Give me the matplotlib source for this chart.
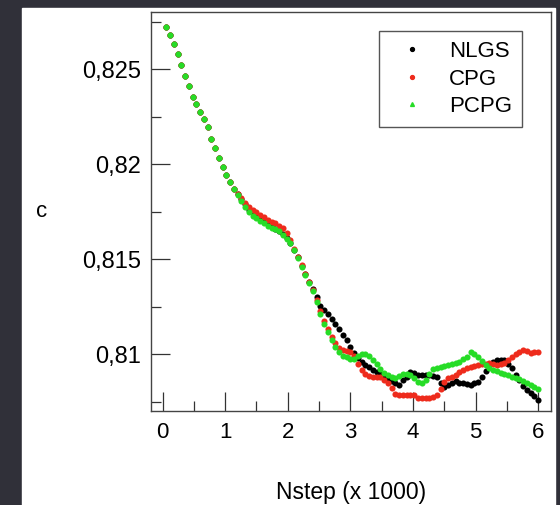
import numpy as np
import matplotlib
matplotlib.use("Agg")
import matplotlib.pyplot as plt
from matplotlib.lines import Line2D
from matplotlib.patches import Rectangle
from matplotlib.ticker import MultipleLocator

plt.rcParams['font.family'] = ['Liberation Sans', 'DejaVu Sans']

# values, one point every 60 steps (x in thousands)
common = [0.82719, 0.82679, 0.82630, 0.82577, 0.82521, 0.82463, 0.82410, 0.82354,
          0.82315, 0.82275, 0.82238, 0.82195, 0.82130, 0.82085, 0.82030, 0.81985,
          0.81942, 0.81905, 0.81868]

nlgs = common + [
    0.81840, 0.81815, 0.81788, 0.81760, 0.81745, 0.81730, 0.81717, 0.81703, 0.81690, 0.81675,
    0.81660, 0.81645, 0.81630, 0.81610, 0.81585, 0.81550, 0.81510, 0.81465, 0.81420, 0.81380,
    0.81340, 0.81298, 0.81255, 0.81232, 0.81208, 0.81184, 0.81157, 0.81130, 0.81102, 0.81074,
    0.81035, 0.81005, 0.80978, 0.80960, 0.80943, 0.80930, 0.80918, 0.80907, 0.80897, 0.80885,
    0.80870, 0.80858, 0.80845, 0.80838, 0.80862, 0.80880, 0.80905, 0.80902, 0.80892, 0.80888,
    0.80889, 0.80889, 0.80886, 0.80880, 0.80850, 0.80828, 0.80837, 0.80850, 0.80856, 0.80850,
    0.80845, 0.80840, 0.80837, 0.80845, 0.80855, 0.80880, 0.80910, 0.80948, 0.80958, 0.80966,
    0.80968, 0.80966, 0.80950, 0.80925, 0.80892, 0.80862, 0.80830, 0.80810, 0.80795, 0.80777,
    0.80757]

cpg = common + [
    0.81840, 0.81820, 0.81795, 0.81772, 0.81758, 0.81745, 0.81732, 0.81720, 0.81708, 0.81697,
    0.81688, 0.81676, 0.81665, 0.81635, 0.81598, 0.81555, 0.81512, 0.81468, 0.81422, 0.81380,
    0.81338, 0.81285, 0.81225, 0.81175, 0.81130, 0.81090, 0.81060, 0.81030, 0.81020, 0.81014,
    0.81008, 0.80992, 0.80945, 0.80915, 0.80895, 0.80885, 0.80880, 0.80880, 0.80878, 0.80862,
    0.80845, 0.80820, 0.80790, 0.80785, 0.80784, 0.80785, 0.80784, 0.80782, 0.80770, 0.80767,
    0.80766, 0.80767, 0.80775, 0.80785, 0.80818, 0.80855, 0.80872, 0.80880, 0.80890, 0.80903,
    0.80915, 0.80925, 0.80932, 0.80936, 0.80940, 0.80945, 0.80948, 0.80951, 0.80947, 0.80942,
    0.80946, 0.80955, 0.80970, 0.80985, 0.81000, 0.81012, 0.81020, 0.81018, 0.81005, 0.81008,
    0.81012]

pcpg = common + [
    0.81835, 0.81805, 0.81775, 0.81745, 0.81728, 0.81715, 0.81702, 0.81688, 0.81675, 0.81665,
    0.81657, 0.81645, 0.81625, 0.81605, 0.81582, 0.81545, 0.81505, 0.81460, 0.81415, 0.81375,
    0.81330, 0.81275, 0.81212, 0.81160, 0.81115, 0.81075, 0.81035, 0.81008, 0.80992, 0.80985,
    0.80975, 0.80975, 0.80988, 0.80998, 0.81002, 0.80988, 0.80968, 0.80945, 0.80922, 0.80902,
    0.80888, 0.80878, 0.80872, 0.80882, 0.80895, 0.80896, 0.80890, 0.80875, 0.80852, 0.80848,
    0.80862, 0.80895, 0.80922, 0.80928, 0.80932, 0.80936, 0.80942, 0.80946, 0.80952, 0.80960,
    0.80972, 0.80986, 0.81008, 0.81000, 0.80982, 0.80962, 0.80940, 0.80925, 0.80916, 0.80908,
    0.80900, 0.80894, 0.80890, 0.80880, 0.80873, 0.80866, 0.80858, 0.80848, 0.80838, 0.80826,
    0.80815]

names = ['NLGS', 'CPG', 'PCPG']
colors = ['#000000', '#ee2b1c', '#26dc26']
xticks = [0, 1, 2, 3, 4, 5, 6]
yticks = [0.81, 0.815, 0.82, 0.825]
ytick_labels = ['0,81', '0,815', '0,82', '0,825']

fig = plt.figure(figsize=(5.6, 5.05), dpi=100, facecolor='#303039')
# white slide panel behind the chart
fig.patches.append(Rectangle((22 / 560, 0), 533 / 560, 497 / 505,
                             transform=fig.transFigure, color='white', zorder=-10))

ax = fig.add_axes([150.7 / 560, 94 / 505, 400 / 560, 399.3 / 505])
ax.set_zorder(5)

for vals, c in zip([nlgs, cpg, pcpg], colors):
    x = 0.06 * np.arange(1, len(vals) + 1)
    ax.plot(x, vals, linestyle='none', marker='o', markersize=4.4,
            markeredgewidth=0, color=c)

ax.set_xlim(-0.19, 6.2)
ax.set_ylim(0.807, 0.82802)
ax.set_xticks(xticks)
ax.set_yticks(yticks)
ax.set_yticklabels(ytick_labels)
ax.xaxis.set_minor_locator(MultipleLocator(0.5))
ax.yaxis.set_minor_locator(MultipleLocator(0.0025))
ax.tick_params(which='both', direction='in', top=False, right=False,
               color='#333333', width=0.9)
ax.tick_params(which='major', length=14)
ax.tick_params(which='minor', length=7)
ax.tick_params(axis='x', pad=8, labelsize=16)
ax.tick_params(axis='y', pad=7, labelsize=17)
for s in ax.spines.values():
    s.set_color('#444444')
    s.set_linewidth(1.0)

ax.set_xlabel('Nstep (x 1000)', fontsize=16.5, labelpad=27)
ax.set_ylabel('c', fontsize=16, rotation=0, va='center', ha='center')
ax.yaxis.set_label_coords(-0.273, 0.5)

handles = [Line2D([], [], linestyle='none', marker='o', markersize=2.8, color=colors[0]),
           Line2D([], [], linestyle='none', marker='o', markersize=2.8, color=colors[1]),
           Line2D([], [], linestyle='none', marker='^', markersize=2.8, color=colors[2])]
leg = ax.legend(handles, names, loc='upper right', bbox_to_anchor=(0.929, 0.952),
                borderaxespad=0, fontsize=16, fancybox=False, edgecolor='#555555',
                framealpha=1, handlelength=2.0, handletextpad=0.7, borderpad=0.45,
                labelspacing=0.3)
leg.get_frame().set_linewidth(1.0)

fig.savefig('out.png', dpi=100, facecolor=fig.get_facecolor())
